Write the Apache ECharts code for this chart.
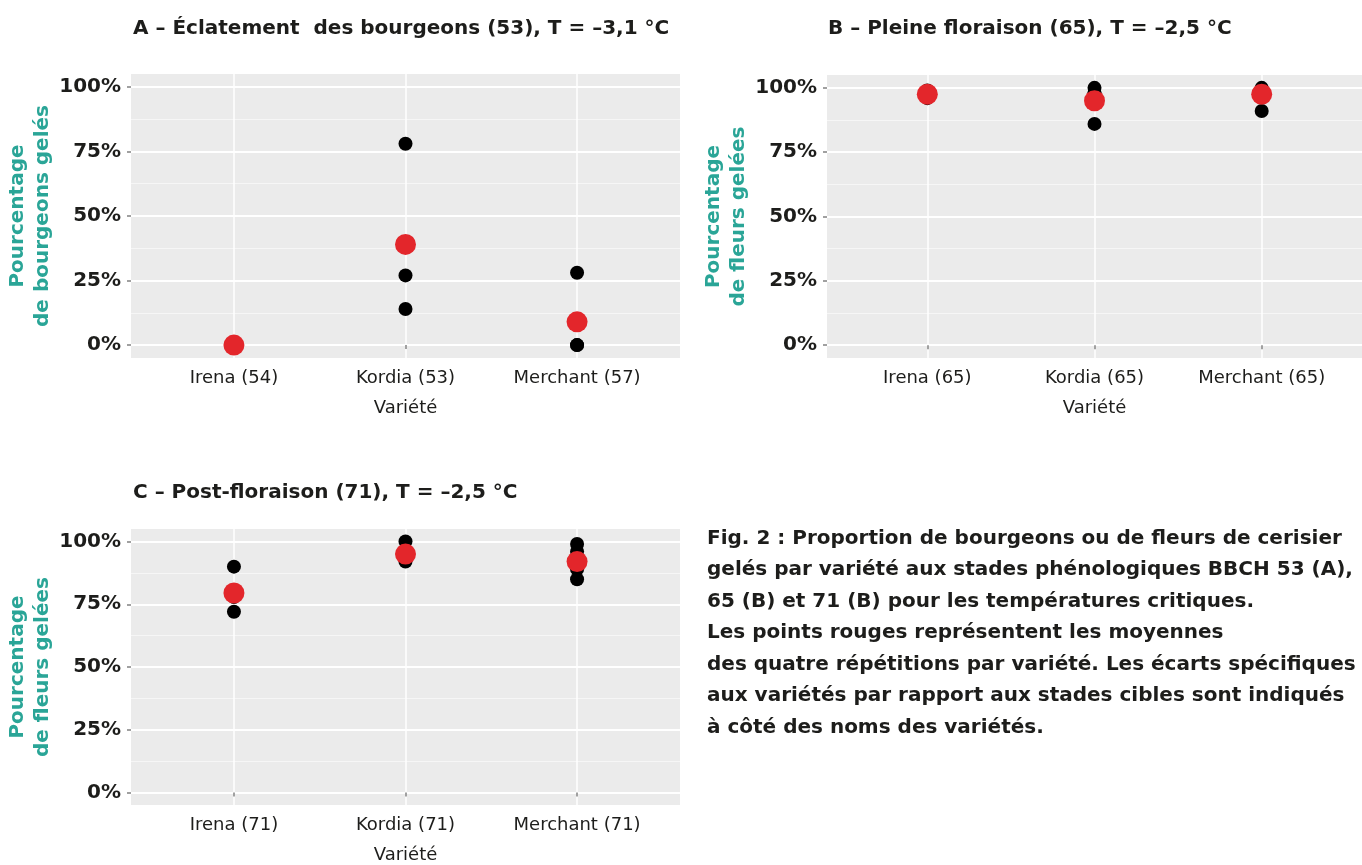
<!DOCTYPE html>
<html><head><meta charset="utf-8">
<script src="https://cdn.jsdelivr.net/npm/echarts@6/dist/echarts.min.js"></script>
<style>html,body{margin:0;padding:0;background:#fff}#c{width:1362px;height:865px}</style>
</head><body><div id="c"></div>
<script>
// ---- data ----
const labelsA = ['Irena (54)', 'Kordia (53)', 'Merchant (57)'];
const labelsB = ['Irena (65)', 'Kordia (65)', 'Merchant (65)'];
const labelsC = ['Irena (71)', 'Kordia (71)', 'Merchant (71)'];
const yTicks = [0, 25, 50, 75, 100];
const yMinor = [12.5, 37.5, 62.5, 87.5];
// four replicates per variety (% frozen)
const repsA = [[0, 0, 0, 0], [78, 27, 14, 38], [28, 0, 0, 9]];
const meansA = [0, 39, 9];
const repsB = [[99, 97, 96, 97], [100, 86, 98, 98], [100, 91, 99, 99]];
const meansB = [97.5, 95, 97.5];
const repsC = [[90, 72, 78, 78], [100, 92, 94, 94], [99, 85, 96, 89]];
const meansC = [79.5, 95, 92];
const titles = [
  'A – Éclatement  des bourgeons (53), T = –3,1 °C',
  'B – Pleine floraison (65), T = –2,5 °C',
  'C – Post-floraison (71), T = –2,5 °C'
];
const yNames = ['Pourcentage\nde bourgeons gelés', 'Pourcentage\nde fleurs gelées', 'Pourcentage\nde fleurs gelées'];
const captionLines = [
  'Fig. 2 : Proportion de bourgeons ou de fleurs de cerisier',
  'gelés par variété aux stades phénologiques BBCH 53 (A),',
  '65 (B) et 71 (B) pour les températures critiques.',
  'Les points rouges représentent les moyennes',
  'des quatre répétitions par variété. Les écarts spécifiques',
  'aux variétés par rapport aux stades cibles sont indiqués',
  'à côté des noms des variétés.'
];

// ---- layout ----
const FONT = '"DejaVu Sans"';
const INK = '#1d1d1b';
const panels = [
  {labels: labelsA, reps: repsA, means: meansA, grid: {left: 131, top: 74, width: 549, height: 284}, title: {left: 128, top: 14}},
  {labels: labelsB, reps: repsB, means: meansB, grid: {left: 827, top: 75, width: 542, height: 283}, title: {left: 823, top: 14}},
  {labels: labelsC, reps: repsC, means: meansC, grid: {left: 131, top: 529, width: 549, height: 284}, title: {left: 128, top: 478}}
];

const yAxes = [];
panels.forEach((p, i) => {
  // minor grid lines (drawn first, beneath everything)
  yAxes.push({
    type: 'value', gridIndex: i, min: -5, max: 105, position: 'left',
    axisLine: {show: false}, axisLabel: {show: false},
    axisTick: {show: false, customValues: yMinor},
    splitLine: {show: true, lineStyle: {color: '#f6f6f6', width: 1}}
  });
});
panels.forEach((p, i) => {
  yAxes.push({
    type: 'value', gridIndex: i, min: -5, max: 105, position: 'left',
    axisLine: {show: false},
    axisTick: {show: true, customValues: yTicks, length: 4, lineStyle: {color: '#a0a0a0', width: 2}},
    axisLabel: {customValues: yTicks, formatter: v => v + '%', margin: 10,
      fontFamily: FONT, fontSize: 20, fontWeight: 'bold', color: INK},
    splitLine: {show: true, lineStyle: {color: '#ffffff', width: 2}},
    name: yNames[i], nameLocation: 'middle', nameRotate: 90, nameGap: 76,
    nameTextStyle: {fontFamily: FONT, fontSize: 20, fontWeight: 'bold', color: '#2aa597', lineHeight: 25}
  });
});

const option = {
  animation: false,
  backgroundColor: '#fff',
  title: panels.map((p, i) => ({
    text: titles[i], left: p.title.left, top: p.title.top,
    textStyle: {fontFamily: FONT, fontSize: 20, fontWeight: 'bold', color: INK}
  })),
  grid: panels.map(p => Object.assign({show: true, backgroundColor: '#ebebeb', borderWidth: 0}, p.grid)),
  xAxis: panels.map((p, i) => ({
    type: 'value', gridIndex: i, min: 0.4, max: 3.6,
    axisLine: {show: false},
    axisTick: {show: true, customValues: [1, 2, 3], length: 4, lineStyle: {color: '#a0a0a0', width: 2}},
    axisLabel: {customValues: [1, 2, 3], formatter: v => p.labels[Math.round(v) - 1], margin: 11,
      fontFamily: FONT, fontSize: 18, color: INK},
    splitLine: {show: true, lineStyle: {color: '#ffffff', width: 1.5}},
    name: 'Variété', nameLocation: 'middle', nameGap: 41,
    nameTextStyle: {fontFamily: FONT, fontSize: 18, color: INK}
  })),
  yAxis: yAxes,
  graphic: [{
    type: 'text', left: 707, top: 523,
    style: {text: captionLines.join('\n'), font: 'bold 20px ' + FONT, lineHeight: 31.5, fill: INK}
  }],
  series: []
};

panels.forEach((p, i) => {
  const yIdx = panels.length + i;
  const pts = [];
  p.reps.forEach((r, k) => r.forEach(v => pts.push([k + 1, v])));
  option.series.push({
    type: 'scatter', xAxisIndex: i, yAxisIndex: yIdx, z: 3, symbolSize: 14,
    itemStyle: {color: '#000000', opacity: 1}, data: pts
  });
  option.series.push({
    type: 'scatter', xAxisIndex: i, yAxisIndex: yIdx, z: 4, symbolSize: 21,
    itemStyle: {color: '#e3262b', opacity: 1}, data: p.means.map((m, k) => [k + 1, m])
  });
});

const chart = echarts.init(document.getElementById('c'), null, {renderer: 'canvas'});
chart.setOption(option);
</script>
</body></html>
